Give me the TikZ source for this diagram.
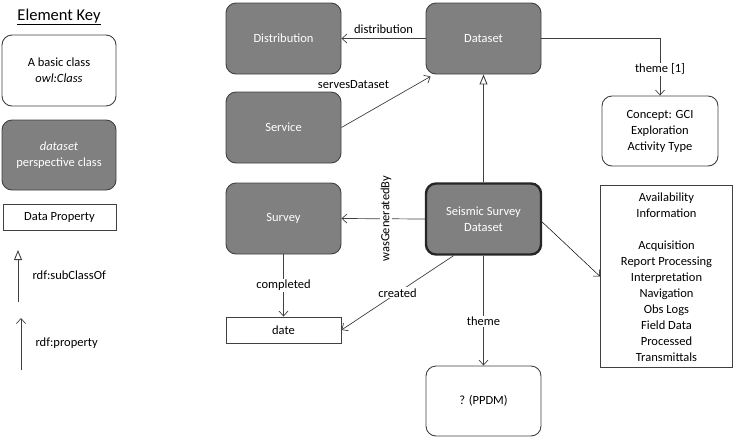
\documentclass[tikz,border=0pt]{standalone}
\usepackage{fontspec}
\setmainfont{Carlito}
\usetikzlibrary{arrows.meta}
\definecolor{boxgray}{HTML}{808080}
\definecolor{edgegray}{HTML}{404040}
\begin{document}
\begin{tikzpicture}[x=1pt,y=-1pt,
  font=\fontsize{12.5}{16}\selectfont,
  classbox/.style={draw=edgegray, line width=0.9pt, rounded corners=10pt, minimum width=115pt, minimum height=71pt, align=center, inner sep=2pt, fill=white},
  dsbox/.style={classbox, fill=boxgray, text=white},
  propbox/.style={draw=edgegray, line width=0.9pt, minimum width=115pt, minimum height=26pt, align=center, fill=white},
  rel/.style={draw=edgegray, line width=0.7pt, -{Straight Barb[length=5pt,width=9pt]}},
  sub/.style={draw=edgegray, line width=0.9pt, -{Triangle[open,length=10pt,width=8pt]}},
  lab/.style={fill=white, inner sep=1pt}
]
\useasboundingbox (0,0) rectangle (734,437);

% Key
\node (keytitle) at (59,17) {\fontsize{16.5}{18}\selectfont\underline{Element Key}};
\node[classbox, minimum width=114pt] (kbasic) at (59,70.5) {A basic class\\\textit{owl:Class}};
\node[dsbox, minimum width=114pt, minimum height=70pt] (kds) at (59,155) {\textit{dataset}\\perspective class};
\node[propbox, minimum width=113pt] (kprop) at (59.5,217) {Data Property};
\coordinate (ksubA) at (18,302);
\coordinate (ksubB) at (18,250);
\draw[sub] (ksubA) -- (ksubB);
\node[anchor=west] (ksubt) at (29,275) {rdf:subClassOf};
\coordinate (kpropA) at (21,370);
\coordinate (kpropB) at (21,318);
\draw[rel] (kpropA) -- (kpropB);
\node[anchor=west] (kpropt) at (32,343) {rdf:property};

% Main nodes
\node[dsbox] (distr) at (283.5,38.5) {Distribution};
\node[dsbox] (dataset) at (483.5,38.5) {Dataset};
\node[dsbox] (service) at (283.5,127.5) {Service};
\node[dsbox] (survey) at (283.5,218.5) {Survey};
\node[dsbox, line width=2.4pt, draw=black!85] (ssd) at (483.5,219) {Seismic Survey\\Dataset};
\node[propbox] (date) at (283.5,330) {date};
\node[classbox, minimum height=70pt] (ppdm) at (483.5,401) {? (PPDM)};
\node[classbox, minimum width=116pt, minimum height=70pt] (gci) at (660,131) {Concept: GCI\\Exploration\\Activity Type};
\node[draw=edgegray, line width=0.9pt, minimum width=132pt, minimum height=182pt, align=center, anchor=north, inner sep=2pt] (avail) at (666.5,185) {};
\node[anchor=north, align=center, inner sep=0pt] (availtext) at (666.5,192.5) {Availability\\Information\\[16pt]Acquisition\\Report Processing\\Interpretation\\Navigation\\Obs Logs\\Field Data\\Processed\\Transmittals};

% Edges
\draw[rel] (dataset.west) -- node[above=1pt] {distribution} (distr.east);
\draw[rel] (service.east) -- ([xshift=5pt,yshift=-2pt]dataset.south west);
\node (servlab) at ([shift={(12,-43)}]service.east) {servesDataset};
\draw[sub] (ssd.north) -- (dataset.south);
\draw[rel] (dataset.east) -| node[lab, pos=0.77] {theme [1]} (gci.north);
\draw[rel] (ssd.west) -- node[lab, rotate=90, xshift=0pt, yshift=-3pt] {wasGeneratedBy} (survey.east);
\draw[rel] (survey.south) -- node[lab] {completed} (date.north);
\draw[rel] ([xshift=-30pt]ssd.south) -- node[lab, pos=0.5] {created} (date.east);
\draw[rel] (ssd.south) -- node[lab, pos=0.6] {theme} (ppdm.north);
\draw[line width=0.5pt, draw=black, -{Straight Barb[length=5pt,width=9pt]}] ([yshift=-3pt]ssd.east) -- (avail.west);
\end{tikzpicture}
\end{document}
